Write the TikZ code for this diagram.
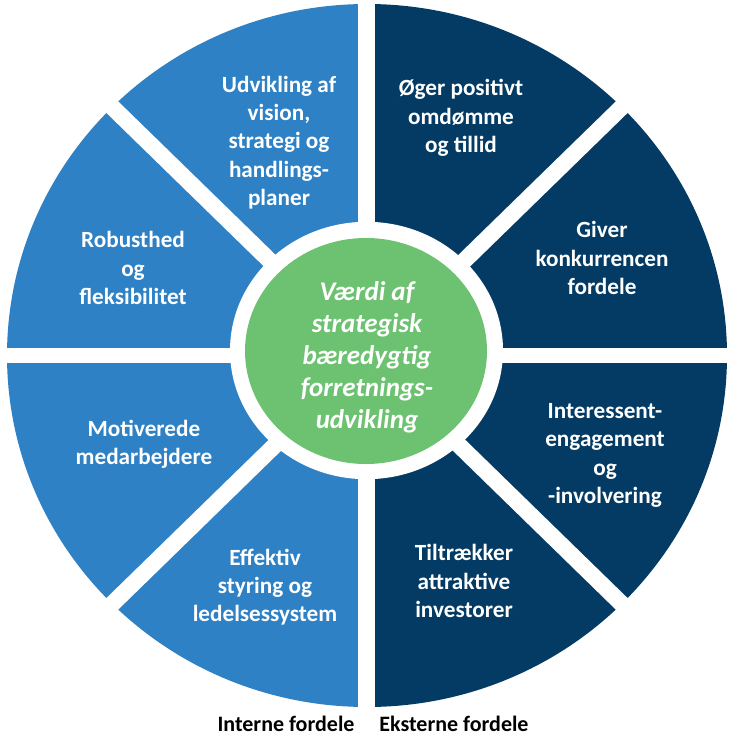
\documentclass[tikz,border=0pt]{standalone}
\usepackage{fontspec}
\setmainfont{Carlito}
\usepackage{tikz}
\definecolor{lysblaa}{RGB}{46,129,196}
\definecolor{moerkblaa}{RGB}{3,59,100}
\definecolor{groen}{RGB}{108,194,112}

\begin{document}
\begin{tikzpicture}[x=1bp,y=-1bp,
	felt/.style={text=white,font=\bfseries\fontsize{23.2bp}{28.2bp}\selectfont,align=center},
	midte/.style={text=white,font=\bfseries\itshape\fontsize{27bp}{32bp}\selectfont,align=center},
	fod/.style={text=black,font=\bfseries\fontsize{22bp}{25bp}\selectfont}]
	\useasboundingbox (0,0) rectangle (738,739);
	% venstre og hoejre halvdel
	\begin{scope}
	\clip (0,0) rectangle (367,739);
	\fill[lysblaa] (367,355.5) ellipse [x radius=360,y radius=351.5];
	\end{scope}
	\begin{scope}
	\clip (367,0) rectangle (738,739);
	\fill[moerkblaa] (367,355.5) ellipse [x radius=360,y radius=351.5];
	\end{scope}
	% hvide snit
	\draw[white,line width=17bp] (366.5,0)--(366.5,712);
	\draw[white,line width=15.5bp] (0,355.5)--(738,355.5);
	\draw[white,line width=16.5bp] (87,82.5)--(647,628.5);
	\draw[white,line width=16.5bp] (647,82.5)--(87,628.5);
	\fill[white] (366.5,350.5) ellipse [x radius=136.5,y radius=128.7];
	\fill[groen] (366,351) ellipse [x radius=121,y radius=113];
	% tekster
	\node[midte] (vaerdi) at (367,357.5) {Værdi af\\strategisk\\bæredygtig\\forretnings-\\udvikling};
	\node[felt] (udvikling) at (279,142.5) {Udvikling af\\vision,\\strategi og\\handlings-\\planer};
	\node[felt] (robust) at (133,268) {Robusthed\\og\\fleksibilitet};
	\node[felt] (motiv) at (144,444) {Motiverede\\medarbejdere};
	\node[felt] (effektiv) at (265,587) {Effektiv\\styring og\\ledelsessystem};
	\node[felt] (oeger) at (461,118) {Øger positivt\\omdømme\\og tillid};
	\node[felt] (giver) at (602,258) {Giver\\konkurrencen\\fordele};
	\node[felt] (interessent) at (605,455.5) {Interessent-\\engagement\\og\\-involvering};
	\node[felt] (tiltraekker) at (464,581) {Tiltrækker\\attraktive\\investorer};
	\node[fod] (interne) at (286,724) {Interne fordele};
	\node[fod] (eksterne) at (454,724) {Eksterne fordele};
\end{tikzpicture}
\end{document}
